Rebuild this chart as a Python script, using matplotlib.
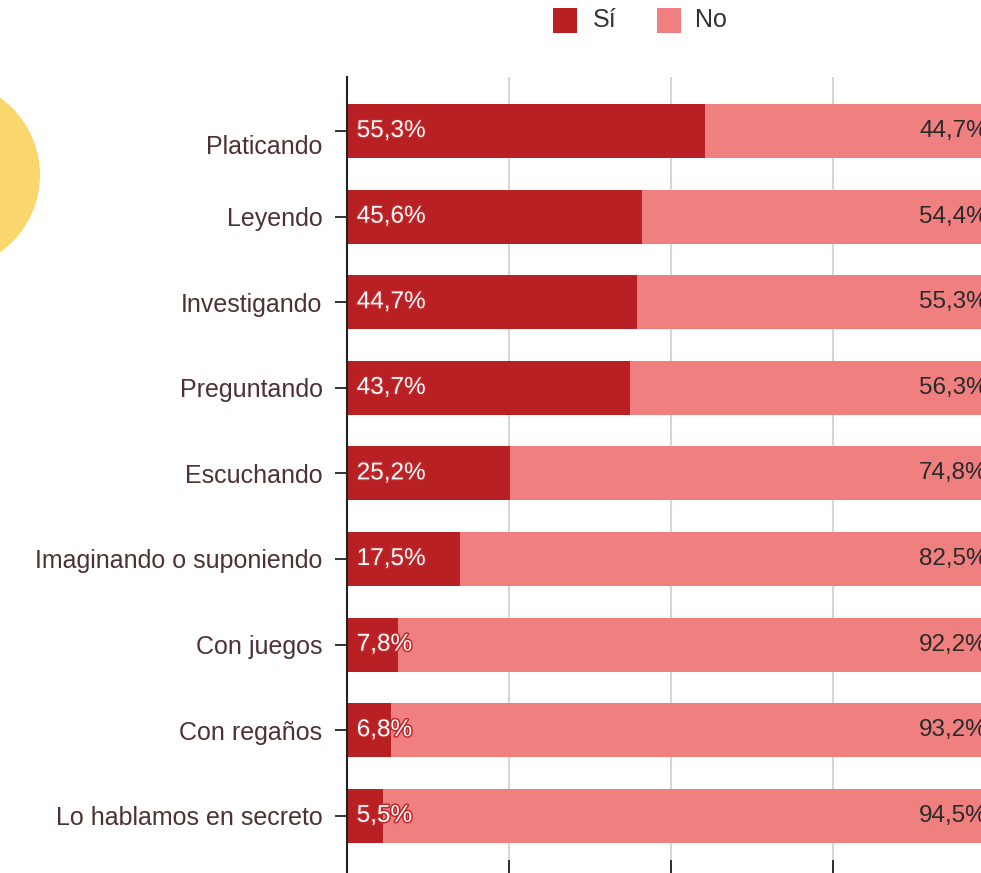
import matplotlib
matplotlib.use("Agg")
import matplotlib.pyplot as plt
import matplotlib.patheffects as pe
from matplotlib.patches import Ellipse, Rectangle
from matplotlib.transforms import ScaledTranslation

categories = ["Platicando", "Leyendo", "Investigando", "Preguntando", "Escuchando",
              "Imaginando o suponiendo", "Con juegos", "Con regaños", "Lo hablamos en secreto"]
si_values = [55.3, 45.6, 44.7, 43.7, 25.2, 17.5, 7.8, 6.8, 5.5]
no_values = [44.7, 54.4, 55.3, 56.3, 74.8, 82.5, 92.2, 93.2, 94.5]
legend_labels = ["Sí", "No"]
x_ticks = [0, 25, 50, 75, 100]

C_SI = "#B92024"
C_NO = "#F08080"
C_LABEL = "#4d3234"

plt.rcParams['font.family'] = ['Liberation Sans', 'DejaVu Sans']

W, H = 981, 873
fig = plt.figure(figsize=(W / 100, H / 100), dpi=100)

# yellow decorative circle at left
circ = Ellipse((-55 / W, 1 - 175 / H), 190 / W, 190 / H, transform=fig.transFigure,
               facecolor="#FAD76C", edgecolor="none")
fig.patches.append(circ)

ax_left, ax_right = 347, 995
ax_top, ax_bottom = 77, 873
ax = fig.add_axes([ax_left / W, 1 - ax_bottom / H, (ax_right - ax_left) / W, (ax_bottom - ax_top) / H])

y = list(range(len(categories)))
ax.barh(y, si_values, height=0.63, color=C_SI, zorder=3)
ax.barh(y, no_values, left=si_values, height=0.63, color=C_NO, zorder=3)

ax.set_xlim(0, 100)
spacing = 85.6
ax.set_ylim((ax_bottom - ax_top - 54) / spacing, -54 / spacing)

ax.set_xticks(x_ticks)
ax.set_xticklabels([])
ax.grid(axis="x", color="#d6d6d6", linewidth=1.5, zorder=0)
ax.tick_params(axis="x", direction="in", length=9.5, width=1.3, color="#222222")

ax.set_yticks(y)
ax.set_yticklabels(categories, fontsize=18, color=C_LABEL)
ax.tick_params(axis="y", direction="out", length=8.6, width=1.3, pad=9, color="#222222")
labs = ax.get_yticklabels()
labs[0].set_transform(labs[0].get_transform() + ScaledTranslation(0, -14 / 100, fig.dpi_scale_trans))

for s in ["top", "right", "bottom"]:
    ax.spines[s].set_visible(False)
ax.spines["left"].set_color("#222222")
ax.spines["left"].set_linewidth(1.5)
ax.spines["left"].set_zorder(5)

def fmt(v):
    return f"{v:.1f}".replace(".", ",") + "%"

for i, (s, n) in enumerate(zip(si_values, no_values)):
    ax.text(1.5, i, fmt(s), ha="left", va="center", fontsize=17.5, color="white", zorder=6,
            path_effects=[pe.withStroke(linewidth=2.2, foreground="#C0282C")])
    ax.text(98.9, i, fmt(n), ha="right", va="center", fontsize=17.5, color="#2a2a2a", zorder=6)

# legend at top
for (xs, xt, lab, col) in [(553, 593, legend_labels[0], C_SI), (657, 695, legend_labels[1], C_NO)]:
    fig.patches.append(Rectangle((xs / W, 1 - 33 / H), 24 / W, 25 / H, transform=fig.transFigure,
                                 facecolor=col, edgecolor="none"))
    fig.text(xt / W, 1 - 20 / H, lab, ha="left", va="center", fontsize=18, color="#333333")

fig.savefig("out.png", dpi=100)
